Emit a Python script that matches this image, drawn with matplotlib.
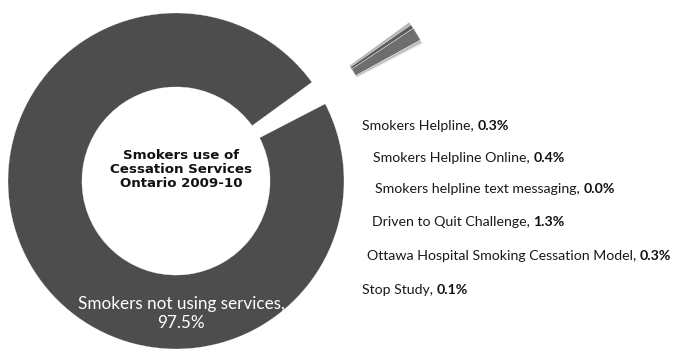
import matplotlib
matplotlib.use("Agg")
import matplotlib.pyplot as plt
import numpy as np

categories = ["Smokers Helpline", "Smokers Helpline Online", "Smokers helpline text messaging",
              "Driven to Quit Challenge", "Ottawa Hospital Smoking Cessation Model", "Stop Study",
              "Smokers not using services"]
values = [0.3, 0.4, 0.0, 1.3, 0.3, 0.1, 97.5]
value_labels = ["0.3%", "0.4%", "0.0%", "1.3%", "0.3%", "0.1%", "97.5%"]
colors = ["#b4b4b4", "#5c5c5c", "#d4d4d4", "#6e6e6e", "#bcbcbc", "#dcdcdc", "#4d4d4d"]
explode_dist = 0.68
start = 36

W, H = 676, 353
fig = plt.figure(figsize=(W / 100, H / 100), dpi=100)
cx, cy, R = 176, 181, 168
ax = fig.add_axes([(cx - R) / W, (H - cy - R) / H, 2 * R / W, 2 * R / H])
wedges, _ = ax.pie(values, colors=colors, startangle=start, counterclock=False,
                   radius=1.0, wedgeprops=dict(width=0.44, edgecolor="white", linewidth=0.2))
# explode the small services slices together as one block
small_total = sum(values[:6])
mid = np.deg2rad(start - 360 * small_total / sum(values) / 2)
for w in wedges[:6]:
    w.set_center((explode_dist * np.cos(mid), explode_dist * np.sin(mid)))
for w in wedges:
    w.set_clip_on(False)
ax.set_xlim(-1, 1)
ax.set_ylim(-1, 1)
ax.axis("off")

# centre title
ax.text(0.03, 0.07, "Smokers use of\nCessation Services\nOntario 2009-10", ha="center", va="center",
        fontsize=9.6, fontweight="bold", family="DejaVu Sans", color="#111111", linespacing=1.1)

# big slice label
ax.text(0.03, -0.79, "Smokers not using services,\n" + value_labels[6], ha="center", va="center",
        fontsize=12.3, family="Lato", color="white", linespacing=1.25)

# small slice labels
label_pos = [(362, 126), (373, 158), (375, 189), (372, 222), (367, 256), (362, 290)]
fig.canvas.draw()
renderer = fig.canvas.get_renderer()
for (x, y), name, vl in zip(label_pos, categories[:6], value_labels[:6]):
    t = fig.text(x / W, 1 - y / H, name + ", ", ha="left", va="center", fontsize=10.2,
                 family="Lato", color="#1a1a1a")
    bb = t.get_window_extent(renderer)
    fig.text(bb.x1 / W, 1 - y / H, vl, ha="left", va="center", fontsize=10.2,
             family="Lato", fontweight="bold", color="#111111")

fig.savefig("out.png", dpi=100, facecolor="white")
